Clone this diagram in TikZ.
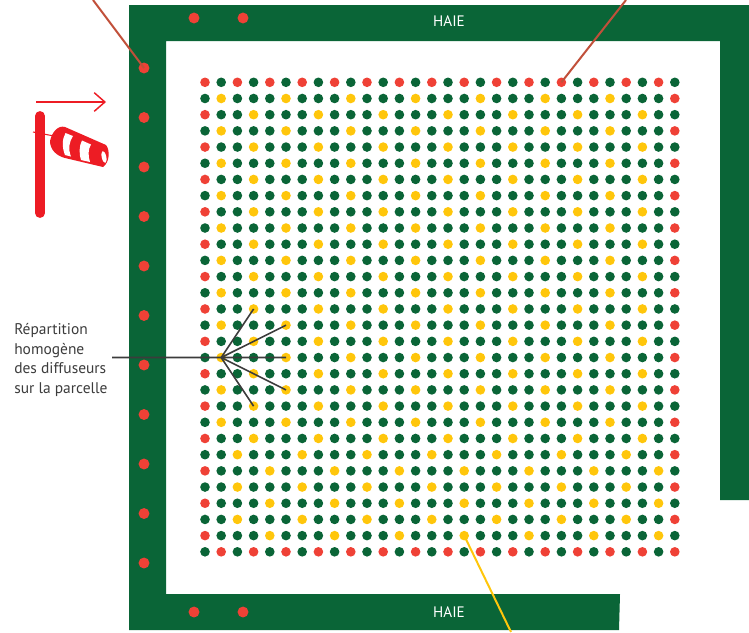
\documentclass[tikz,border=0pt]{standalone}
\usepackage{xcolor}
\usepackage{fontspec}
\setmainfont{PT Sans}
\usepackage{tikz}
\usetikzlibrary{positioning}
\usetikzlibrary{arrows.meta}
\definecolor{hedgegreen}{HTML}{0A6537}
\definecolor{dotred}{HTML}{EF4136}
\definecolor{dotyellow}{HTML}{FFC60B}
\definecolor{sockred}{HTML}{ED1C24}
\definecolor{callbrown}{HTML}{C1503A}
\definecolor{labelgrey}{HTML}{3C3C3C}
\tikzset{
  hedgedot/.style={circle, fill=dotred, inner sep=0pt, minimum size=8.2pt},
  plantdot/.style={circle, fill=#1, inner sep=0pt, minimum size=7.2pt},
  hedgelabel/.style={text=white, font=\fontsize{11.4}{13}\selectfont},
  fanline/.style={labelgrey, line width=1.2pt},
  callout/.style={line width=1.5pt}
}
\begin{document}
\begin{tikzpicture}[x=0.75pt,y=-0.75pt]
  \useasboundingbox (0,0) rectangle (749,632);
  % hedge
  \fill[hedgegreen] (129,5) -- (749,5) -- (749,500) -- (720,500) -- (720,41) -- (166,41)
     -- (166,594) -- (620,594) -- (619,630) -- (129,630) -- cycle;
  \node[hedgelabel] (haietop) at (449,21) {HAIE};
  \node[hedgelabel] (haiebottom) at (449,612) {HAIE};
  % hedge diffusers
  \foreach \k in {0,...,10}
     \node[hedgedot] (left\k) at (144,68+49.5*\k) {};
  \node[hedgedot] (topa) at (194,18) {};
  \node[hedgedot] (topb) at (243,18) {};
  \node[hedgedot] (bota) at (194,612) {};
  \node[hedgedot] (botb) at (243,612) {};
  % plot: 30 x 30
  \foreach \r in {0,...,29}{
    \foreach \c in {0,...,29}{
      \pgfmathtruncatemacro{\odd}{mod(\r,2)}
      \pgfmathtruncatemacro{\low}{\r>22 ? 1 : 0}
      \pgfmathtruncatemacro{\phase}{\low==1 ? (\odd==1 ? 2 : 0) : (\odd==1 ? 1 : 3)}
      \pgfmathtruncatemacro{\ph}{mod(\c,4)==\phase ? 1 : 0}
      \def\col{hedgegreen}
      \ifnum\ph=1 \def\col{dotyellow}\fi
      \ifnum\odd=0 \ifnum\c=0 \def\col{dotred}\fi \fi
      \ifnum\odd=1 \ifnum\c=29 \def\col{dotred}\fi \fi
      \ifnum\r=0
        \pgfmathtruncatemacro{\cc}{mod(\c,2)}
        \ifnum\cc=0 \def\col{dotred}\else \def\col{hedgegreen}\fi
      \fi
      \ifnum\r=29
        \pgfmathtruncatemacro{\cc}{mod(\c,2)}
        \ifnum\cc=1 \def\col{dotred}\else \def\col{hedgegreen}\fi
      \fi
      \node[plantdot=\col] (p\r-\c) at (205+16.2*\c,82.3+16.19*\r) {};
    }
  }
  % callouts
  \coordinate (calla) at (93,0);
  \coordinate (callb) at (626,0);
  \coordinate (callc) at (511,632);
  \draw[callout, callbrown] (calla) -- (left0.center);
  \draw[callout, callbrown] (callb) -- (p0-22.center);
  \draw[callout, dotyellow] (callc) -- (p28-16.center);
  % text and fan
  \node[align=left, anchor=west, text=labelgrey, inner sep=0pt,
        font=\fontsize{11.6}{14.7}\selectfont] (repart) at (14,360)
     {R\'epartition\\homog\`ene\\des diffuseurs\\sur la parcelle};
  \coordinate (fanstart) at (112,357.5);
  \draw[fanline] (fanstart) -- (p17-5.center);
  \foreach \r/\c in {14/3,15/5,19/5,20/3}
     \draw[fanline] (p17-1.center) -- (p\r-\c.center);
  % wind arrow
  \coordinate (winda) at (36,102);
  \coordinate (windb) at (106,102);
  \draw[sockred, line width=1.1pt, -{Straight Barb[length=8pt,width=14pt,line width=1.1pt]}] (winda) -- (windb);
  % windsock
  \draw[sockred, line width=7.4pt, line cap=round] (40,116) -- (40,213);
  \draw[sockred, line width=0.8pt] (33,132) -- (54,136);
  \fill[sockred] (50,141) .. controls (52,132) and (58,125) .. (65,127) -- (106,145)
     .. controls (110,150) and (110,162) .. (103,167) -- (65,158) .. controls (57,156) and (50,150) .. (50,141) -- cycle;
  \fill[white] (65.5,133) .. controls (62,139) and (62,148) .. (65,155) -- (71,156.5)
     .. controls (68,149) and (69,142) .. (73,136) -- cycle;
  \fill[white] (82,140.5) .. controls (79,146) and (79,154) .. (81,160) -- (90,162)
     .. controls (88,156) and (88,149) .. (91,144.5) -- cycle;
  \fill[white, rotate around={12:(104,157)}] (104,157) ellipse (2.3 and 6);
\end{tikzpicture}
\end{document}
